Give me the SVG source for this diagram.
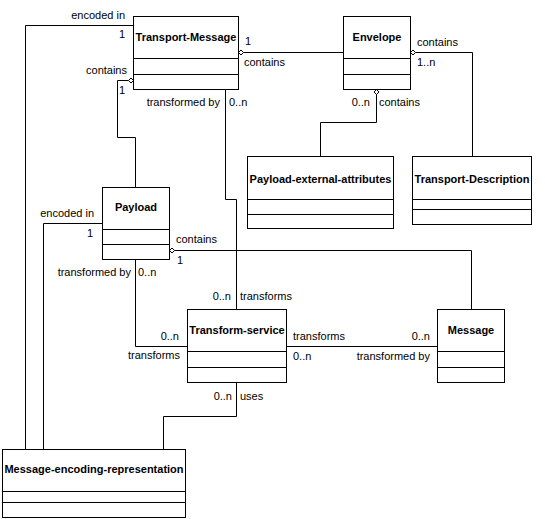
<svg xmlns="http://www.w3.org/2000/svg" width="545" height="519" viewBox="0 0 545 519">
<style>
.box{fill:#fff;stroke:#000;stroke-width:1}
.div{stroke:#000;stroke-width:1}
.t{font-family:"Liberation Sans",Arial,sans-serif;font-size:11px;font-weight:bold;text-anchor:middle;fill:#000}
.l{font-family:"Liberation Sans",Arial,sans-serif;font-size:11px;fill:#000}
.e{text-anchor:end}
.c{fill:none;stroke:#000;stroke-width:1}
.d{fill:#fff;stroke:#000;stroke-width:1}
</style>
<rect width="545" height="519" fill="#fff"/>
<g id="connectors">
<path class="c" d="M133.5,25.5 H25.5 V449.5"/>
<path class="c" d="M128.5,80.5 H117.5 V137.5 H135.5 V187.5"/>
<path class="c" d="M225.5,89.5 V199.5 H236.5 V309.5"/>
<path class="c" d="M243.5,52.5 H343.5"/>
<path class="c" d="M415.5,52.5 H472.5 V156.5"/>
<path class="c" d="M376.5,94.5 V122.5 H320.5 V156.5"/>
<path class="c" d="M102.5,223.5 H43.5 V449.5"/>
<path class="c" d="M174.5,250.5 H471.5 V309.5"/>
<path class="c" d="M135.5,259.5 V346.5 H187.5"/>
<path class="c" d="M286.5,346.5 H437.5"/>
<path class="c" d="M236.5,382.5 V416.5 H163.5 V449.5"/>
<polygon class="d" points="133.5,80.5 131,78 128.5,80.5 131,83"/>
<polygon class="d" points="238.5,52.5 241,50 243.5,52.5 241,55"/>
<polygon class="d" points="410.5,52.5 413,50 415.5,52.5 413,55"/>
<polygon class="d" points="376.5,89.5 379,92 376.5,94.5 374,92"/>
<polygon class="d" points="169.5,250.5 172,248 174.5,250.5 172,253"/>
<text class="l e" x="125" y="19">encoded in</text>
<text class="l e" x="125" y="38">1</text>
<text class="l e" x="127" y="74">contains</text>
<text class="l e" x="125" y="94">1</text>
<text class="l e" x="220" y="106">transformed by</text>
<text class="l" x="229" y="106">0..n</text>
<text class="l" x="245" y="45">1</text>
<text class="l" x="244" y="66">contains</text>
<text class="l" x="417" y="46">contains</text>
<text class="l" x="417" y="66">1..n</text>
<text class="l e" x="370" y="106">0..n</text>
<text class="l" x="379" y="106">contains</text>
<text class="l e" x="94" y="217">encoded in</text>
<text class="l e" x="93" y="237">1</text>
<text class="l" x="176" y="243">contains</text>
<text class="l" x="177" y="264">1</text>
<text class="l e" x="131" y="276">transformed by</text>
<text class="l" x="138" y="276">0..n</text>
<text class="l e" x="231" y="300">0..n</text>
<text class="l" x="240" y="300">transforms</text>
<text class="l e" x="179" y="340">0..n</text>
<text class="l e" x="180" y="359">transforms</text>
<text class="l" x="293" y="340">transforms</text>
<text class="l" x="293" y="360">0..n</text>
<text class="l e" x="430" y="340">0..n</text>
<text class="l e" x="430" y="360">transformed by</text>
<text class="l e" x="232" y="400">0..n</text>
<text class="l" x="240" y="400">uses</text>
</g>
<g id="transport-message">
<rect class="box" x="133.5" y="16.5" width="105" height="73"/>
<line class="div" x1="133.5" y1="58.5" x2="238.5" y2="58.5"/>
<line class="div" x1="133.5" y1="74.5" x2="238.5" y2="74.5"/>
<text class="t" x="186" y="41">Transport-Message</text>
</g>
<g id="envelope">
<rect class="box" x="343.5" y="16.5" width="67" height="73"/>
<line class="div" x1="343.5" y1="58.5" x2="410.5" y2="58.5"/>
<line class="div" x1="343.5" y1="74.5" x2="410.5" y2="74.5"/>
<text class="t" x="377" y="41">Envelope</text>
</g>
<g id="payload-external-attributes">
<rect class="box" x="247.5" y="156.5" width="146" height="72"/>
<line class="div" x1="247.5" y1="199.5" x2="393.5" y2="199.5"/>
<line class="div" x1="247.5" y1="214.5" x2="393.5" y2="214.5"/>
<text class="t" x="320.5" y="183">Payload-external-attributes</text>
</g>
<g id="transport-description">
<rect class="box" x="412.5" y="156.5" width="119" height="68"/>
<line class="div" x1="412.5" y1="199.5" x2="531.5" y2="199.5"/>
<line class="div" x1="412.5" y1="209.5" x2="531.5" y2="209.5"/>
<text class="t" x="472" y="183">Transport-Description</text>
</g>
<g id="payload">
<rect class="box" x="102.5" y="187.5" width="67" height="72"/>
<line class="div" x1="102.5" y1="229.5" x2="169.5" y2="229.5"/>
<line class="div" x1="102.5" y1="244.5" x2="169.5" y2="244.5"/>
<text class="t" x="136" y="211">Payload</text>
</g>
<g id="transform-service">
<rect class="box" x="187.5" y="309.5" width="99" height="73"/>
<line class="div" x1="187.5" y1="351.5" x2="286.5" y2="351.5"/>
<line class="div" x1="187.5" y1="367.5" x2="286.5" y2="367.5"/>
<text class="t" x="237" y="334">Transform-service</text>
</g>
<g id="message">
<rect class="box" x="437.5" y="309.5" width="67" height="73"/>
<line class="div" x1="437.5" y1="351.5" x2="504.5" y2="351.5"/>
<line class="div" x1="437.5" y1="367.5" x2="504.5" y2="367.5"/>
<text class="t" x="471" y="334">Message</text>
</g>
<g id="message-encoding-representation">
<rect class="box" x="2.5" y="449.5" width="183" height="68"/>
<line class="div" x1="2.5" y1="491.5" x2="185.5" y2="491.5"/>
<line class="div" x1="2.5" y1="502.5" x2="185.5" y2="502.5"/>
<text class="t" x="94" y="473">Message-encoding-representation</text>
</g>
</svg>
